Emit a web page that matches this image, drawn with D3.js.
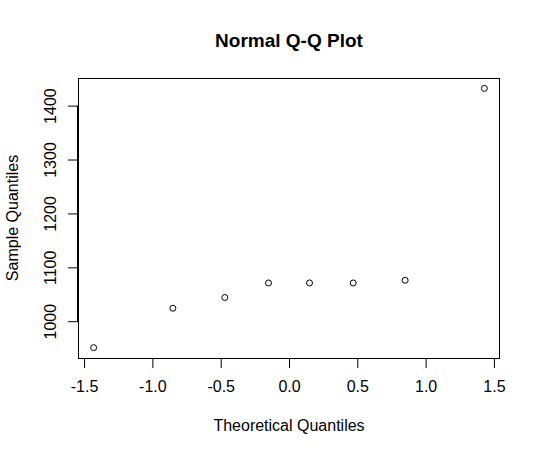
<!DOCTYPE html>
<html>
<head>
<meta charset="utf-8">
<script src="https://cdn.jsdelivr.net/npm/d3@7"></script>
<style>
  body { margin: 0; background: #fff; }
  text { font-family: "Liberation Sans", Arial, sans-serif; fill: #000; }
</style>
</head>
<body>
<div id="chart"></div>
<script>
// Data
const theoretical = [-1.43, -0.85, -0.47, -0.15, 0.15, 0.47, 0.85, 1.43];
const sample = [951, 1024, 1044, 1071, 1071, 1071, 1076, 1432];
const xTicks = [-1.5, -1.0, -0.5, 0.0, 0.5, 1.0, 1.5];
const yTicks = [1000, 1100, 1200, 1300, 1400];

const W = 541, H = 456;
const box = {left: 78, right: 500, top: 78, bottom: 358};

const svg = d3.select("#chart").append("svg")
    .attr("width", W)
    .attr("height", H);

// R style: extend data range by 4% on each side
function pad(ext) {
  const d = (ext[1] - ext[0]) * 0.04;
  return [ext[0] - d, ext[1] + d];
}

const x = d3.scaleLinear()
  .domain(pad(d3.extent(theoretical)))
  .range([box.left, box.right]);

const y = d3.scaleLinear()
  .domain(pad(d3.extent(sample)))
  .range([box.bottom, box.top]);

// Bottom axis
const xAxis = svg.append("g")
  .attr("transform", `translate(0,${box.bottom})`)
  .call(d3.axisBottom(x).tickValues(xTicks).tickFormat(d => d.toFixed(1))
        .tickSize(10).tickPadding(13));
xAxis.selectAll("text").style("font-size", "16px").attr("dy", "0.71em");
xAxis.select(".domain").attr("d", `M${x(xTicks[0])},0.5H${x(xTicks[xTicks.length - 1])}`);
xAxis.selectAll("line, path").attr("stroke", "#000");

// Left axis (rotated labels, like R's las=0)
const yAxis = svg.append("g")
  .attr("transform", `translate(${box.left},0)`)
  .call(d3.axisLeft(y).tickValues(yTicks).tickFormat(d => String(d)).tickSize(10));
yAxis.select(".domain").attr("d", `M-0.5,${y(yTicks[0])}V${y(yTicks[yTicks.length - 1])}`);
yAxis.selectAll("line, path").attr("stroke", "#000");
yAxis.selectAll(".tick text")
  .style("font-size", "16px")
  .attr("x", null).attr("dy", null)
  .attr("text-anchor", "middle")
  .attr("transform", "translate(-22,0) rotate(-90)");

// Plot box
svg.append("rect")
  .attr("x", box.left + 0.5)
  .attr("y", box.top + 0.5)
  .attr("width", box.right - box.left - 1)
  .attr("height", box.bottom - box.top)
  .attr("fill", "none")
  .attr("stroke", "#000");

// Points
svg.selectAll(".dot")
  .data(theoretical)
  .enter().append("circle")
  .attr("class", "dot")
  .attr("cx", d => x(d))
  .attr("cy", (d, i) => y(sample[i]))
  .attr("r", 3)
  .attr("fill", "none")
  .attr("stroke", "#000")
  .attr("stroke-width", 1);

// Title
svg.append("text")
  .attr("x", (box.left + box.right) / 2)
  .attr("y", 47)
  .attr("text-anchor", "middle")
  .style("font-size", "19px")
  .style("font-weight", "bold")
  .text("Normal Q-Q Plot");

// Axis labels
svg.append("text")
  .attr("x", (box.left + box.right) / 2)
  .attr("y", 431)
  .attr("text-anchor", "middle")
  .style("font-size", "16px")
  .text("Theoretical Quantiles");

svg.append("text")
  .attr("transform", `translate(18,${(box.top + box.bottom) / 2}) rotate(-90)`)
  .attr("text-anchor", "middle")
  .style("font-size", "16px")
  .text("Sample Quantiles");
</script>
</body>
</html>
